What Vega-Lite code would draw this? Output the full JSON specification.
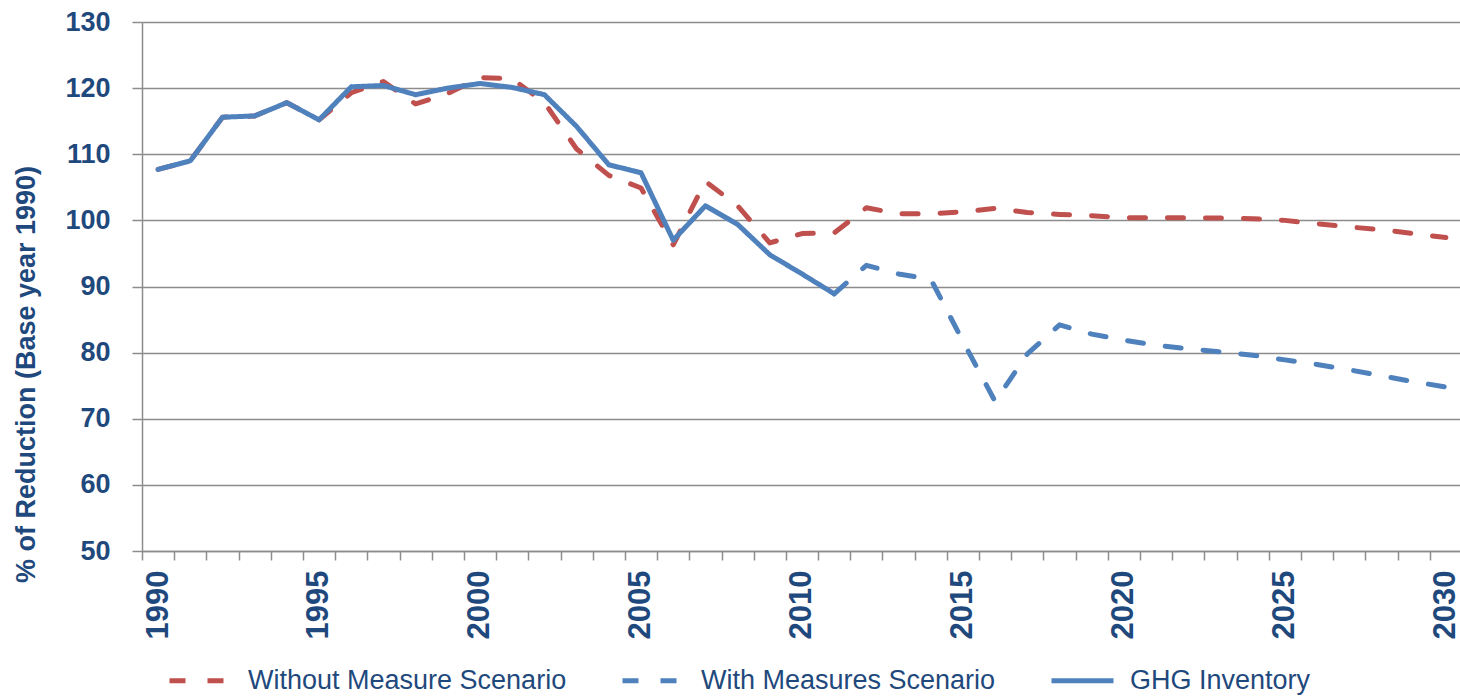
{
  "$schema": "https://vega.github.io/schema/vega-lite/v6.json",
  "width": 1320,
  "height": 529,
  "autosize": {"type": "none"},
  "padding": {"left": 142, "top": 22, "right": 0, "bottom": 146},
  "background": "white",
  "config": {
    "view": {"stroke": null},
    "font": "Liberation Sans"
  },
  "datasets": {
    "rows": [
      {"year": 1990, "series": "Without Measure Scenario", "value": 107.7},
      {"year": 1991, "series": "Without Measure Scenario", "value": 109.0},
      {"year": 1992, "series": "Without Measure Scenario", "value": 115.6},
      {"year": 1993, "series": "Without Measure Scenario", "value": 115.8},
      {"year": 1994, "series": "Without Measure Scenario", "value": 117.8},
      {"year": 1995, "series": "Without Measure Scenario", "value": 115.2},
      {"year": 1996, "series": "Without Measure Scenario", "value": 119.3},
      {"year": 1997, "series": "Without Measure Scenario", "value": 121.0},
      {"year": 1998, "series": "Without Measure Scenario", "value": 117.6},
      {"year": 1999, "series": "Without Measure Scenario", "value": 119.2},
      {"year": 2000, "series": "Without Measure Scenario", "value": 121.6},
      {"year": 2001, "series": "Without Measure Scenario", "value": 121.4},
      {"year": 2002, "series": "Without Measure Scenario", "value": 117.8},
      {"year": 2003, "series": "Without Measure Scenario", "value": 110.8},
      {"year": 2004, "series": "Without Measure Scenario", "value": 106.8},
      {"year": 2005, "series": "Without Measure Scenario", "value": 104.9},
      {"year": 2006, "series": "Without Measure Scenario", "value": 96.3},
      {"year": 2007, "series": "Without Measure Scenario", "value": 105.9},
      {"year": 2008, "series": "Without Measure Scenario", "value": 102.2},
      {"year": 2009, "series": "Without Measure Scenario", "value": 96.6},
      {"year": 2010, "series": "Without Measure Scenario", "value": 98.0},
      {"year": 2011, "series": "Without Measure Scenario", "value": 98.1},
      {"year": 2012, "series": "Without Measure Scenario", "value": 101.9},
      {"year": 2013, "series": "Without Measure Scenario", "value": 101.0},
      {"year": 2014, "series": "Without Measure Scenario", "value": 101.0},
      {"year": 2015, "series": "Without Measure Scenario", "value": 101.3},
      {"year": 2016, "series": "Without Measure Scenario", "value": 101.8},
      {"year": 2017, "series": "Without Measure Scenario", "value": 101.2},
      {"year": 2018, "series": "Without Measure Scenario", "value": 100.9},
      {"year": 2019, "series": "Without Measure Scenario", "value": 100.7},
      {"year": 2020, "series": "Without Measure Scenario", "value": 100.4},
      {"year": 2021, "series": "Without Measure Scenario", "value": 100.4},
      {"year": 2022, "series": "Without Measure Scenario", "value": 100.4},
      {"year": 2023, "series": "Without Measure Scenario", "value": 100.35},
      {"year": 2024, "series": "Without Measure Scenario", "value": 100.25},
      {"year": 2025, "series": "Without Measure Scenario", "value": 100.0},
      {"year": 2026, "series": "Without Measure Scenario", "value": 99.5},
      {"year": 2027, "series": "Without Measure Scenario", "value": 99.0},
      {"year": 2028, "series": "Without Measure Scenario", "value": 98.6},
      {"year": 2029, "series": "Without Measure Scenario", "value": 98.0},
      {"year": 2030, "series": "Without Measure Scenario", "value": 97.4},
      {"year": 2011, "series": "With Measures Scenario", "value": 88.9},
      {"year": 2012, "series": "With Measures Scenario", "value": 93.2},
      {"year": 2013, "series": "With Measures Scenario", "value": 91.9},
      {"year": 2014, "series": "With Measures Scenario", "value": 91.1},
      {"year": 2015, "series": "With Measures Scenario", "value": 81.7},
      {"year": 2016, "series": "With Measures Scenario", "value": 72.6},
      {"year": 2017, "series": "With Measures Scenario", "value": 79.8},
      {"year": 2018, "series": "With Measures Scenario", "value": 84.2},
      {"year": 2019, "series": "With Measures Scenario", "value": 82.8},
      {"year": 2020, "series": "With Measures Scenario", "value": 81.9},
      {"year": 2021, "series": "With Measures Scenario", "value": 81.1},
      {"year": 2022, "series": "With Measures Scenario", "value": 80.6},
      {"year": 2023, "series": "With Measures Scenario", "value": 80.1},
      {"year": 2024, "series": "With Measures Scenario", "value": 79.6},
      {"year": 2025, "series": "With Measures Scenario", "value": 78.9},
      {"year": 2026, "series": "With Measures Scenario", "value": 78.2},
      {"year": 2027, "series": "With Measures Scenario", "value": 77.4},
      {"year": 2028, "series": "With Measures Scenario", "value": 76.5},
      {"year": 2029, "series": "With Measures Scenario", "value": 75.6},
      {"year": 2030, "series": "With Measures Scenario", "value": 74.8},
      {"year": 1990, "series": "GHG Inventory", "value": 107.7},
      {"year": 1991, "series": "GHG Inventory", "value": 109.0},
      {"year": 1992, "series": "GHG Inventory", "value": 115.6},
      {"year": 1993, "series": "GHG Inventory", "value": 115.8},
      {"year": 1994, "series": "GHG Inventory", "value": 117.8},
      {"year": 1995, "series": "GHG Inventory", "value": 115.2},
      {"year": 1996, "series": "GHG Inventory", "value": 120.2},
      {"year": 1997, "series": "GHG Inventory", "value": 120.4},
      {"year": 1998, "series": "GHG Inventory", "value": 119.0},
      {"year": 1999, "series": "GHG Inventory", "value": 120.0},
      {"year": 2000, "series": "GHG Inventory", "value": 120.7},
      {"year": 2001, "series": "GHG Inventory", "value": 120.1},
      {"year": 2002, "series": "GHG Inventory", "value": 119.0},
      {"year": 2003, "series": "GHG Inventory", "value": 114.2},
      {"year": 2004, "series": "GHG Inventory", "value": 108.4},
      {"year": 2005, "series": "GHG Inventory", "value": 107.2},
      {"year": 2006, "series": "GHG Inventory", "value": 97.0},
      {"year": 2007, "series": "GHG Inventory", "value": 102.2},
      {"year": 2008, "series": "GHG Inventory", "value": 99.4},
      {"year": 2009, "series": "GHG Inventory", "value": 94.8},
      {"year": 2010, "series": "GHG Inventory", "value": 91.9},
      {"year": 2011, "series": "GHG Inventory", "value": 88.9}
    ]
  },
  "data": {"name": "rows"},
  "encoding": {
    "x": {
      "field": "year",
      "type": "quantitative",
      "scale": {"domain": [1989.5, 2030.5], "nice": false, "zero": false},
      "axis": {
        "title": null,
        "grid": false,
        "values": [1989.5, 1990.5, 1991.5, 1992.5, 1993.5, 1994.5, 1995.5, 1996.5, 1997.5, 1998.5, 1999.5, 2000.5, 2001.5, 2002.5, 2003.5, 2004.5, 2005.5, 2006.5, 2007.5, 2008.5, 2009.5, 2010.5, 2011.5, 2012.5, 2013.5, 2014.5, 2015.5, 2016.5, 2017.5, 2018.5, 2019.5, 2020.5, 2021.5, 2022.5, 2023.5, 2024.5, 2025.5, 2026.5, 2027.5, 2028.5, 2029.5, 2030.5],
        "labelExpr": "datum.value % 5 == 4.5 && datum.value < 2030 ? toString(datum.value + 0.5) : ''",
        "labelOffset": 16,
        "labelAngle": -90,
        "labelAlign": "right",
        "labelBaseline": "middle",
        "labelFlush": false,
        "labelOverlap": false,
        "labelBound": false,
        "labelFont": "Liberation Sans",
        "labelFontWeight": "bold",
        "labelFontSize": 31,
        "labelColor": "#1F497D",
        "labelPadding": 10,
        "tickSize": 9,
        "tickColor": "#8C8C8C",
        "tickWidth": 1.5,
        "domainColor": "#8C8C8C",
        "domainWidth": 1.5
      }
    },
    "y": {
      "field": "value",
      "type": "quantitative",
      "scale": {"domain": [50, 130], "nice": false, "zero": false},
      "axis": {
        "title": "% of Reduction (Base year 1990)",
        "titleFont": "Liberation Sans",
        "titleFontWeight": "bold",
        "titleFontSize": 27,
        "titleColor": "#1F497D",
        "titleAngle": -90,
        "titleAlign": "center",
        "titleBaseline": "middle",
        "titleX": -116,
        "titleY": 352,
        "values": [50, 60, 70, 80, 90, 100, 110, 120, 130],
        "grid": true,
        "gridColor": "#8C8C8C",
        "gridWidth": 1.5,
        "labelFont": "Liberation Sans",
        "labelFontWeight": "bold",
        "labelFontSize": 27,
        "labelColor": "#1F497D",
        "labelPadding": 22,
        "tickSize": 10,
        "tickColor": "#8C8C8C",
        "tickWidth": 1.5,
        "domainColor": "#8C8C8C",
        "domainWidth": 1.5
      }
    },
    "color": {
      "field": "series",
      "type": "nominal",
      "scale": {
        "domain": ["Without Measure Scenario", "With Measures Scenario", "GHG Inventory"],
        "range": ["#C0504D", "#4F81BD", "#4F81BD"]
      },
      "legend": {
        "title": null,
        "orient": "none",
        "legendX": 25,
        "legendY": 625,
        "direction": "horizontal",
        "symbolType": "stroke",
        "symbolSize": 3844,
        "symbolStrokeWidth": 5,
        "labelFont": "Liberation Sans",
        "labelFontSize": 27,
        "labelColor": "#1F497D",
        "labelOffset": 14,
        "labelLimit": 500,
        "columnPadding": 45
      }
    },
    "strokeDash": {
      "field": "series",
      "type": "nominal",
      "scale": {
        "domain": ["Without Measure Scenario", "With Measures Scenario", "GHG Inventory"],
        "range": [[16, 22], [16, 22], [1, 0]]
      },
      "legend": {
        "title": null,
        "orient": "none",
        "legendX": 25,
        "legendY": 625,
        "direction": "horizontal",
        "symbolType": "stroke",
        "symbolSize": 3844,
        "symbolStrokeWidth": 5,
        "labelFont": "Liberation Sans",
        "labelFontSize": 27,
        "labelColor": "#1F497D",
        "labelOffset": 14,
        "labelLimit": 500,
        "columnPadding": 45
      }
    }
  },
  "layer": [
    {
      "transform": [{"filter": "datum.series == 'Without Measure Scenario'"}],
      "mark": {"type": "line", "strokeWidth": 5, "strokeCap": "round", "strokeJoin": "round"}
    },
    {
      "transform": [{"filter": "datum.series == 'With Measures Scenario'"}],
      "mark": {"type": "line", "strokeWidth": 5, "strokeCap": "round", "strokeJoin": "round"}
    },
    {
      "transform": [{"filter": "datum.series == 'GHG Inventory'"}],
      "mark": {"type": "line", "strokeWidth": 5, "strokeCap": "round", "strokeJoin": "round"}
    }
  ]
}
